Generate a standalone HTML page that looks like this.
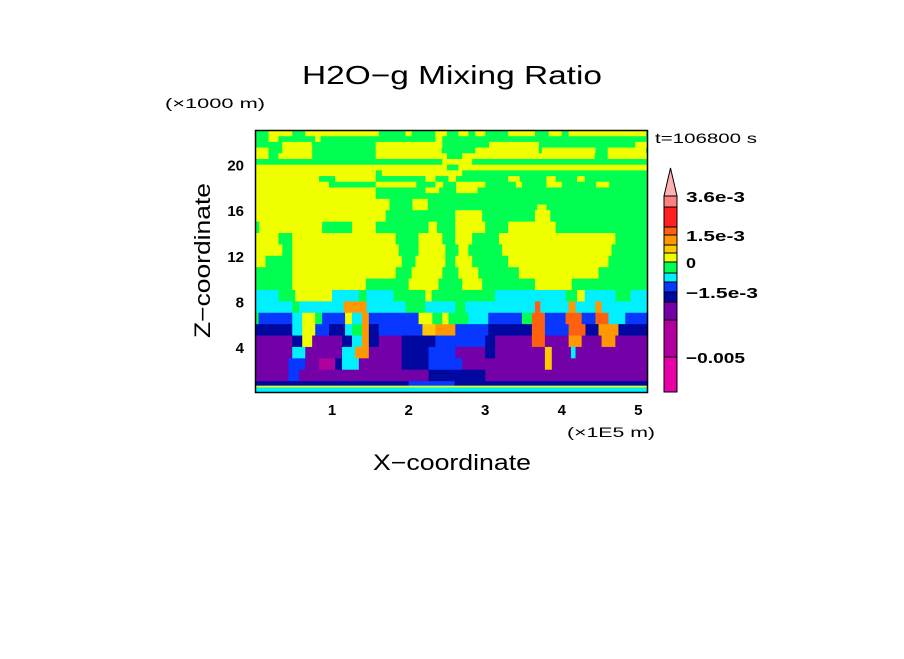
<!DOCTYPE html>
<html><head><meta charset="utf-8"><style>
body{margin:0;background:#fff;}
svg text{font-family:"Liberation Sans",sans-serif;fill:#000;}
</style></head><body>
<svg width="904" height="654" viewBox="0 0 904 654" xmlns="http://www.w3.org/2000/svg">
<rect width="904" height="654" fill="#fff"/>
<text x="302" y="84" font-size="26" textLength="300" lengthAdjust="spacingAndGlyphs">H2O−g Mixing Ratio</text>
<text x="165" y="108" font-size="14" textLength="100" lengthAdjust="spacingAndGlyphs">(×1000 m)</text>
<text x="655" y="143" font-size="14" textLength="102" lengthAdjust="spacingAndGlyphs">t=106800 s</text>
<text x="567" y="437" font-size="14" textLength="88" lengthAdjust="spacingAndGlyphs">(×1E5 m)</text>
<text x="373" y="470" font-size="22" textLength="158" lengthAdjust="spacingAndGlyphs">X−coordinate</text>
<text transform="translate(210,338) rotate(-90)" font-size="22" textLength="155" lengthAdjust="spacingAndGlyphs">Z−coordinate</text>
<g id="field"></g>
<g id="xticks"></g>
<g id="yticks"></g>
<rect x="255.5" y="130.5" width="392" height="262" fill="none" stroke="#000" stroke-width="1.5"/>
<g id="cbar"></g>
</svg>
<script>
// data
const levelColors = {"0":"#e800a8","1":"#b000a0","2":"#7400a8","3":"#0008a0","4":"#0838ff","5":"#00f0ff","6":"#00ff50","7":"#f0ff00","8":"#ffc800","9":"#ff9800","a":"#ff6010","b":"#ff2020","c":"#ff8080"};
const rowTops = [23,22.5,22,21.5,21,20.5,20,19.5,19,18.5,18,17.5,17,16.5,16,15,14,13,12,11,10,9,8,7,6,5,4,3,2,1,0.6,0.45];
const rowRuns = [
"6:17 7:48 6:65 7:161 6:196 7:204 6:235 7:250 6:265 7:278 6:287 7:300 6:330 7:365 6:383 7:400 6:409 7:510 6:512",
"6:17 7:30 6:78 7:85 6:235 7:244 6:512",
"6:35 7:74 6:157 7:244 6:305 7:370 6:496 7:512",
"7:17 6:35 7:74 6:157 7:243 6:287 7:370 6:374 7:444 6:460 7:510 6:512",
"7:17 6:30 7:74 6:157 7:250 6:270 7:443 6:460 7:512",
"6:244 7:283 6:512",
"7:250 6:265 7:512",
"7:157 6:165 7:270 6:512",
"7:83 6:104 7:157 6:222 7:235 6:252 7:262 6:330 7:345 6:380 7:392 6:420 7:430 6:512",
"7:96 6:157 7:210 6:235 7:245 6:262 7:300 6:340 7:348 6:380 7:400 6:445 7:462 6:512",
"7:157 6:222 7:240 6:262 7:290 6:512",
"7:157 6:512",
"7:175 6:205 7:225 6:512",
"7:175 6:205 7:225 6:368 7:380 6:512",
"7:170 6:261 7:296 6:365 7:385 6:512",
"6:5 7:87 6:126 7:157 6:226 7:237 6:261 7:300 6:330 7:392 6:512",
"7:30 6:48 7:183 6:213 7:244 6:261 7:283 6:318 7:470 6:512",
"7:35 6:48 7:187 6:213 7:248 6:265 7:278 6:322 7:465 6:512",
"7:13 6:48 7:191 6:209 7:248 6:261 7:283 6:330 7:461 6:512",
"6:48 7:183 6:204 7:244 6:265 7:291 6:344 7:448 6:512",
"6:48 7:144 6:200 7:239 6:270 7:296 6:365 7:413 6:512",
"5:30 6:52 7:100 5:135 6:145 5:180 6:222 7:230 6:313 5:405 6:420 7:430 5:470 6:490 5:512",
"5:48 6:57 5:115 9:145 5:196 6:222 5:261 6:274 5:365 a:372 5:409 9:418 5:444 9:452 5:512",
"6:4 4:48 5:61 7:78 6:87 4:117 7:126 5:139 9:148 4:213 7:231 6:244 7:252 6:278 5:304 4:348 6:361 a:378 4:405 a:426 4:444 a:461 5:483 4:512",
"3:48 5:61 7:78 4:96 3:117 5:126 6:139 9:148 3:161 4:218 8:235 9:261 4:304 3:361 a:378 4:409 a:431 3:448 9:474 3:512",
"2:48 3:61 7:74 2:113 3:126 5:139 9:148 3:161 2:191 3:235 4:300 3:313 2:361 a:378 2:409 9:426 2:452 9:470 2:512",
"2:48 5:65 2:113 5:130 9:148 2:191 3:226 4:261 2:300 3:313 2:378 8:387 2:412 5:418 2:512",
"2:43 4:65 2:83 1:104 3:113 5:135 2:191 3:226 4:270 2:378 8:387 2:512",
"2:43 4:57 2:226 3:300 2:512",
"3:200 4:260 3:512",
"7:512",
"5:512"
];
const xTicks = [1,2,3,4,5];
const yTicks = [4,8,12,16,20];
const cbarLevels = ["0","1","2","3","4","5","6","7","8","9","a","b","c"];
const cbarHeights = [35,37,18,10,10,9,11,9,8,10,8,20,11];
const cbarLabels = ["3.6e-3","1.5e-3","0","−1.5e-3","−0.005"];
const cbarLabelIdx = [13,10,7,4,1];
const cbarLabelWidths = [59,59,10,72,59];

const NS="http://www.w3.org/2000/svg";
const X0=255.5,X1=647.5,Y0=392.5,Y1=130.5,XMAX=512,ZMAX=23;
const sx=v=>X0+(v/XMAX)*(X1-X0);
const sy=v=>Y0-(v/ZMAX)*(Y0-Y1);
function mk(tag,attrs,parent){const e=document.createElementNS(NS,tag);for(const k in attrs)e.setAttribute(k,attrs[k]);parent.appendChild(e);return e;}
const field=document.getElementById('field');
rowRuns.forEach((row,i)=>{
  const top=rowTops[i], bot=(i+1<rowTops.length)?rowTops[i+1]:0;
  let start=0;
  row.split(' ').forEach(tok=>{
    const [lv,end]=tok.split(':');const e=+end;
    if(e>start){
      const r=mk('rect',{x:sx(start),y:sy(top),width:sx(e)-sx(start)+0.6,height:sy(bot)-sy(top)+0.6,fill:levelColors[lv]},field);
      
      
    }
    start=Math.max(start,e);
  });
});
const xt=document.getElementById('xticks');
xTicks.forEach(v=>{const t=mk('text',{x:sx(v*100),y:415,'font-size':15,'font-weight':'bold','text-anchor':'middle'},xt);t.textContent=v;

});
const yt=document.getElementById('yticks');
yTicks.forEach(v=>{const t=mk('text',{x:244,y:sy(v)+6,'font-size':15,'font-weight':'bold','text-anchor':'end'},yt);t.textContent=v;

});
// colorbar
const cb=document.getElementById('cbar');
const CX=664,CW=13,CB=392;
let y=CB;const bounds=[CB];
cbarLevels.forEach((lv,i)=>{const h=cbarHeights[i];y-=h;bounds.push(y);
 const r=mk('rect',{x:CX,y:y,width:CW,height:h,fill:levelColors[lv],stroke:'#000','stroke-width':1},cb);
 
 });
const tri=mk('polygon',{points:`${CX},${y} ${CX+CW},${y} ${CX+CW/2},${y-28}`,fill:'#ffb0b0',stroke:'#000','stroke-width':1},cb);


cbarLabels.forEach((lab,i)=>{const yy=bounds[cbarLabelIdx[i]];
 const t=mk('text',{x:686,y:yy+6,'font-size':15,'font-weight':'bold',textLength:cbarLabelWidths[i],lengthAdjust:'spacingAndGlyphs'},cb);t.textContent=lab;
 
 });
</script>
</body></html>
